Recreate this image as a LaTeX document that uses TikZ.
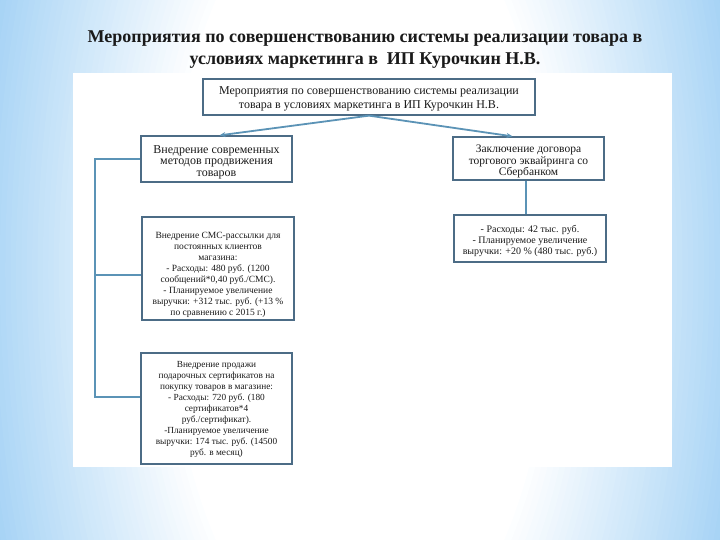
\documentclass[tikz,border=0pt]{standalone}
\usepackage{fontspec}
\setmainfont{Liberation Serif}
\usetikzlibrary{arrows.meta}
\definecolor{bgblue}{HTML}{9CCEF4}
\definecolor{boxline}{HTML}{4C6C86}
\definecolor{conn}{HTML}{5B93B6}
\definecolor{txt}{HTML}{1A1A1A}
\newcommand{\dn}[1]{\rule{0pt}{#1}}
\tikzset{
  boxnode/.style={draw=boxline, line width=1.3pt, fill=white, text=txt, align=center, inner sep=1pt},
  link/.style={draw=conn, line width=1.8pt},
  arrowlink/.style={link, -{Stealth[length=6pt,width=5pt]}},
}
\begin{document}
\begin{tikzpicture}[x=1pt,y=-1pt]
\useasboundingbox (0,0) rectangle (720,540);
\clip (0,0) rectangle (720,540);
\fill[bgblue] (0,0) rectangle (720,540);
\foreach \k in {0,...,44}{
  \pgfmathsetmacro{\r}{1-\k*0.0125}
  \pgfmathsetmacro{\p}{max(0,min(100,(\r-0.45)/0.5*100))}
  \fill[bgblue!\p!white] (360,270) ellipse ({430*\r} and {900*\r});
}
\fill[white] (73,73) rectangle (672,467);
\node[text=txt, align=center, font=\fontsize{18}{22}\selectfont\bfseries] (title) at (365,50)
 {Мероприятия по совершенствованию системы реализации товара в\\условиях маркетинга в\ \ ИП Курочкин Н.В.};
\node[boxnode, minimum width=332pt, minimum height=36pt, font=\fontsize{12}{14}\selectfont] (top) at (369,97)
 {\dn{12.5pt}Мероприятия по совершенствованию системы реализации\\товара в условиях маркетинга в ИП Курочкин Н.В.};
\node[boxnode, minimum width=151pt, minimum height=46pt, font=\fontsize{12}{11.6}\selectfont] (l1) at (216.5,159)
 {\dn{14.5pt}Внедрение современных\\методов продвижения\\товаров};
\node[boxnode, minimum width=151pt, minimum height=43pt, font=\fontsize{11.5}{11.6}\selectfont] (r1) at (528.5,158.5)
 {\dn{14pt}Заключение договора\\торгового эквайринга со\\Сбербанком};
\node[boxnode, minimum width=152pt, minimum height=47pt, font=\fontsize{10}{11.2}\selectfont] (r2) at (530,238.5)
 {\dn{12pt}- Расходы: 42 тыс. руб.\\- Планируемое увеличение\\выручки: +20 \% (480 тыс. руб.)};
\node[boxnode, minimum width=152pt, minimum height=103pt, font=\fontsize{9.5}{11.1}\selectfont] (l2) at (218,268.5)
 {\dn{19pt}Внедрение СМС-рассылки для\\постоянных клиентов\\магазина:\\- Расходы: 480 руб. (1200\\сообщений*0,40 руб./СМС).\\- Планируемое увеличение\\выручки: +312 тыс. руб. (+13 \%\\по сравнению с 2015 г.)};
\node[boxnode, minimum width=151pt, minimum height=111pt, font=\fontsize{9.3}{11.1}\selectfont] (l3) at (216.5,408.5)
 {\dn{8pt}Внедрение продажи\\подарочных сертификатов на\\покупку товаров в магазине:\\- Расходы: 720 руб. (180\\сертификатов*4\\руб./сертификат).\\-Планируемое увеличение\\выручки: 174 тыс. руб. (14500\\руб. в месяц)};
\coordinate (bx) at (95,0);
\coordinate (j2) at (0,275);
\coordinate (j3) at (0,397);
\draw[link] (l1.west) -| (bx |- j3) -- (l3.west |- j3);
\draw[link] (bx |- j2) -- (l2.west |- j2);
\draw[link] (r1.south -| 526,0) -- (r2.north -| 526,0);
\draw[arrowlink] (top.south) -- ([xshift=3pt]l1.north);
\draw[arrowlink] (top.south) -- ([xshift=-16pt]r1.north);
\end{tikzpicture}
\end{document}
